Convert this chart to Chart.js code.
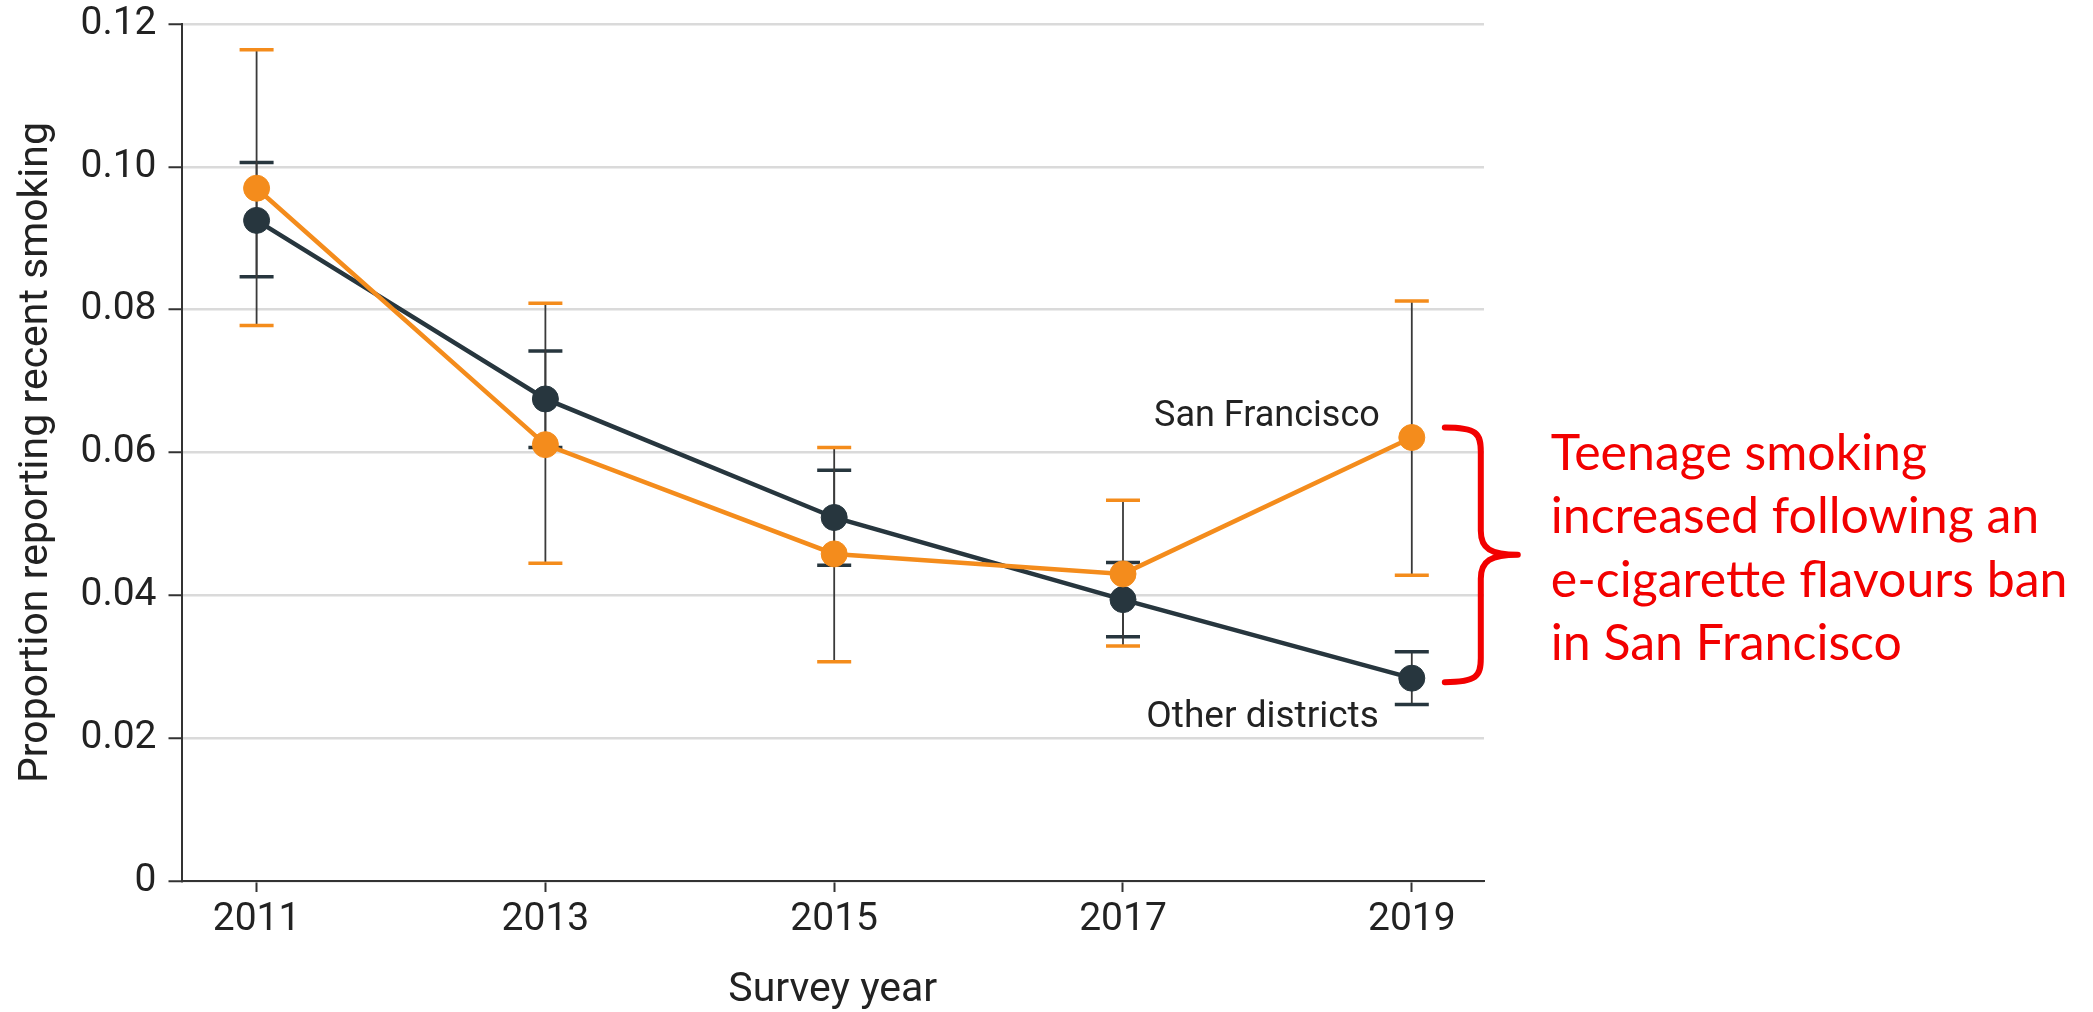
<!DOCTYPE html>
<html>
<head>
<meta charset="utf-8">
<script src="https://cdn.jsdelivr.net/npm/chart.js@4.4.0/dist/chart.umd.min.js"></script>
<style>
  html, body { margin: 0; padding: 0; background: #fff; }
  #wrap { width: 2093px; height: 1012px; position: relative; }
</style>
</head>
<body>
<div id="wrap"><canvas id="smoking-chart"></canvas></div>
<script>
const years = [2011, 2013, 2015, 2017, 2019];
const yTicks = [0, 0.02, 0.04, 0.06, 0.08, 0.10, 0.12];

// proportion reporting recent smoking, with 95% CI
const sanFrancisco = [0.0970, 0.0611, 0.0458, 0.0430, 0.0621];
const sfLower = [0.0778, 0.0445, 0.0307, 0.0329, 0.0428];
const sfUpper = [0.1164, 0.0809, 0.0607, 0.0533, 0.0812];

const otherDistricts = [0.0925, 0.0675, 0.0509, 0.0394, 0.0284];
const otherLower = [0.0846, 0.0607, 0.0442, 0.0342, 0.0247];
const otherUpper = [0.1006, 0.0742, 0.0575, 0.0446, 0.0321];

const noteLines = [
  "Teenage smoking",
  "increased following an",
  "e-cigarette flavours ban",
  "in San Francisco",
];

const ORANGE = "#f48c1c";
const SLATE = "#27363e";
const RED = "#f20000";
const TEXT = "#222";
const FONT = "Roboto";

// whiskers go under the lines and markers
const errorBars = {
  id: "errorBars",
  beforeDatasetsDraw(chart) {
    const { ctx, scales: { x, y } } = chart;
    const groups = [
      { lower: otherLower, upper: otherUpper, cap: SLATE },
      { lower: sfLower, upper: sfUpper, cap: ORANGE },
    ];
    ctx.save();
    groups.forEach(g => {
      years.forEach((yr, i) => {
        const px = x.getPixelForValue(yr);
        const top = y.getPixelForValue(g.upper[i]);
        const bot = y.getPixelForValue(g.lower[i]);
        ctx.strokeStyle = "#3a3a3a";
        ctx.lineWidth = 1.8;
        ctx.beginPath();
        ctx.moveTo(px, top);
        ctx.lineTo(px, bot);
        ctx.stroke();
        ctx.strokeStyle = g.cap;
        ctx.lineWidth = 3.5;
        ctx.beginPath();
        ctx.moveTo(px - 17, top);
        ctx.lineTo(px + 17, top);
        ctx.moveTo(px - 17, bot);
        ctx.lineTo(px + 17, bot);
        ctx.stroke();
      });
    });
    ctx.restore();
  },
};

// series names at the last year, plus the red brace and note
const callout = {
  id: "callout",
  afterDraw(chart) {
    const { ctx, scales: { x, y } } = chart;
    const last = years.length - 1;
    const px = x.getPixelForValue(years[last]);
    const ySF = y.getPixelForValue(sanFrancisco[last]);
    const yOther = y.getPixelForValue(otherDistricts[last]);

    ctx.save();
    ctx.fillStyle = TEXT;
    ctx.textAlign = "right";
    ctx.textBaseline = "middle";
    ctx.font = `36px ${FONT}`;
    ctx.fillText("San Francisco", px - 32, ySF - 21);
    ctx.font = `37px ${FONT}`;
    ctx.fillText("Other districts", px - 33, yOther + 40);

    const top = ySF - 10;
    const bottom = yOther + 4;
    const mid = (top + bottom) / 2;
    const x0 = px + 33;
    const x1 = px + 69;
    const xt = px + 106;
    const r = 24;

    ctx.strokeStyle = RED;
    ctx.lineWidth = 6;
    ctx.lineCap = "round";
    ctx.lineJoin = "round";
    ctx.beginPath();
    ctx.moveTo(x0, top);
    ctx.bezierCurveTo(x1 - 4, top, x1, top + 6, x1, top + r);
    ctx.lineTo(x1, mid - r);
    ctx.bezierCurveTo(x1, mid - 6, x1 + 10, mid, xt, mid);
    ctx.bezierCurveTo(x1 + 10, mid, x1, mid + 6, x1, mid + r);
    ctx.lineTo(x1, bottom - r);
    ctx.bezierCurveTo(x1, bottom - 6, x1 - 4, bottom, x0, bottom);
    ctx.stroke();

    ctx.fillStyle = RED;
    ctx.font = "50px Lato";
    ctx.textAlign = "left";
    ctx.textBaseline = "alphabetic";
    const tx = px + 139;
    noteLines.forEach((line, i) => {
      ctx.fillText(line, tx, mid - 85 + i * 63.5);
    });
    ctx.restore();
  },
};

const toPoints = vals => years.map((yr, i) => ({ x: yr, y: vals[i] }));

new Chart(document.getElementById("smoking-chart"), {
  type: "line",
  data: {
    datasets: [
      {
        label: "San Francisco",
        data: toPoints(sanFrancisco),
        borderColor: ORANGE,
        backgroundColor: ORANGE,
        borderWidth: 4.5,
        pointRadius: 13,
        pointBorderWidth: 1,
        pointHoverRadius: 13,
        tension: 0,
      },
      {
        label: "Other districts",
        data: toPoints(otherDistricts),
        borderColor: SLATE,
        backgroundColor: SLATE,
        borderWidth: 4.5,
        pointRadius: 13,
        pointBorderWidth: 1,
        pointHoverRadius: 13,
        tension: 0,
      },
    ],
  },
  options: {
    responsive: true,
    maintainAspectRatio: false,
    animation: false,
    layout: {
      padding: { top: 24, right: 609, bottom: 0, left: 0 },
    },
    plugins: {
      legend: { display: false },
      tooltip: { enabled: false },
    },
    scales: {
      x: {
        type: "linear",
        min: 2010.48,
        max: 2019.5,
        afterBuildTicks: s => {
          s.ticks = years.map(v => ({ value: v }));
        },
        afterFit: s => {
          s.height = 131;
        },
        ticks: {
          callback: v => String(v),
          font: { family: FONT, size: 39, lineHeight: 1 },
          color: TEXT,
          padding: 9,
          maxRotation: 0,
          autoSkip: false,
        },
        grid: {
          drawOnChartArea: false,
          tickLength: 11,
          tickColor: "#333",
          tickWidth: 2,
        },
        border: { color: "#333", width: 2 },
        title: {
          display: true,
          text: "Survey year",
          font: { family: FONT, size: 41, lineHeight: 1.05 },
          color: TEXT,
          padding: { top: 0, bottom: 0 },
        },
      },
      y: {
        min: 0,
        max: 0.12,
        afterBuildTicks: s => {
          s.ticks = yTicks.map(v => ({ value: v }));
        },
        afterFit: s => {
          s.width = 181.5;
          s.paddingTop = 0;
          s.paddingBottom = 0;
        },
        ticks: {
          callback: v => (v === 0 ? "0" : v.toFixed(2)),
          font: { family: FONT, size: 39 },
          color: TEXT,
          padding: 12,
        },
        grid: {
          color: "#dadada",
          lineWidth: 2.5,
          tickLength: 13,
          tickColor: "#333",
          tickWidth: 2,
        },
        border: { color: "#333", width: 2 },
        title: {
          display: true,
          text: "Proportion reporting recent smoking",
          font: { family: FONT, size: 41, lineHeight: 1.05 },
          color: TEXT,
          padding: { top: 15, bottom: 0 },
        },
      },
    },
  },
  plugins: [errorBars, callout],
});
</script>
</body>
</html>
